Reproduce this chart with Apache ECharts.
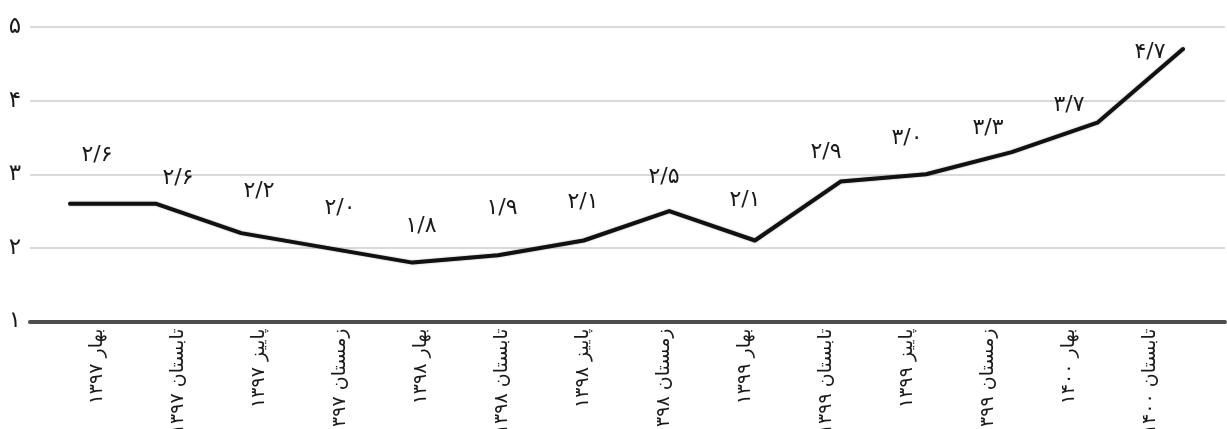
<!DOCTYPE html>
<html lang="fa">
<head>
<meta charset="utf-8">
<title>نرخ</title>
<script src="https://cdn.jsdelivr.net/npm/echarts@6/dist/echarts.min.js"></script>
<style>
  html, body { margin: 0; padding: 0; background: #fff; }
  #chart { width: 1227px; height: 429px; }
</style>
</head>
<body>
<div id="chart"></div>
<script>
// Quarterly periods (season + year)
const categories = [
  'بهار ۱۳۹۷', 'تابستان ۱۳۹۷', 'پاییز ۱۳۹۷', 'زمستان ۱۳۹۷',
  'بهار ۱۳۹۸', 'تابستان ۱۳۹۸', 'پاییز ۱۳۹۸', 'زمستان ۱۳۹۸',
  'بهار ۱۳۹۹', 'تابستان ۱۳۹۹', 'پاییز ۱۳۹۹', 'زمستان ۱۳۹۹',
  'بهار ۱۴۰۰', 'تابستان ۱۴۰۰'
];
const values = [2.6, 2.6, 2.2, 2.0, 1.8, 1.9, 2.1, 2.5, 2.1, 2.9, 3.0, 3.3, 3.7, 4.7];
const yTicks = [1, 2, 3, 4, 5];

// vertical nudges of the value labels (px)
const labelNudge = [-48, -25, -42, -40, -36, -47, -38, -34, -40, -29, -36, -24, -17, 3];

const faDigits = '۰۱۲۳۴۵۶۷۸۹';
const toFa = s => String(s).replace(/[0-9]/g, d => faDigits[+d]);
const fmtValue = v => toFa(v.toFixed(1)).replace('.', '/');

const FONT = '"DejaVu Sans", "Noto Sans", sans-serif';
const TOP = 27, BOTTOM = 107.5;

const chart = echarts.init(document.getElementById('chart'), null, { renderer: 'canvas' });

const yBase = {
  type: 'value', min: yTicks[0], max: yTicks[yTicks.length - 1], interval: 1
};
const gridBase = { top: TOP, bottom: BOTTOM, containLabel: false, outerBoundsMode: 'none' };

chart.setOption({
  backgroundColor: '#ffffff',
  animation: false,
  textStyle: { fontFamily: FONT },
  grid: [
    Object.assign({ left: 30, right: 2 }, gridBase),      // frame: gridlines + axis line
    Object.assign({ left: 70, right: 44 }, gridBase),     // line
    Object.assign({ left: 56.5, right: 36.5 }, gridBase)  // category labels + value labels
  ],
  xAxis: [
    {
      gridIndex: 0, type: 'category', data: categories, boundaryGap: false,
      axisLine: { show: true, lineStyle: { color: '#4d4d4d', width: 4 } },
      axisTick: { show: false }, axisLabel: { show: false }, splitLine: { show: false }
    },
    {
      gridIndex: 1, type: 'category', data: categories, boundaryGap: false,
      axisLine: { show: false }, axisTick: { show: false }, axisLabel: { show: false }
    },
    {
      gridIndex: 2, type: 'category', data: categories, boundaryGap: true,
      axisLine: { show: false }, axisTick: { show: false },
      axisLabel: {
        show: true, rotate: 90, margin: 7, interval: 0,
        fontSize: 19, color: '#1a1a1a', fontFamily: FONT
      }
    }
  ],
  yAxis: [
    Object.assign({}, yBase, {
      gridIndex: 0,
      axisLine: { show: false }, axisTick: { show: false },
      axisLabel: {
        show: true, margin: 9, fontSize: 23, color: '#1a1a1a', fontFamily: FONT,
        formatter: v => toFa(v)
      },
      splitLine: { show: true, lineStyle: { color: '#dadada', width: 2 } }
    }),
    Object.assign({}, yBase, {
      gridIndex: 1, show: false, splitLine: { show: false }
    }),
    Object.assign({}, yBase, {
      gridIndex: 2, show: false, splitLine: { show: false }
    })
  ],
  series: [
    {
      type: 'line', xAxisIndex: 1, yAxisIndex: 1,
      data: values,
      symbol: 'none',
      lineStyle: {
        color: '#111111', width: 4, join: 'round', cap: 'round',
        shadowColor: 'rgba(0,0,0,0.35)', shadowBlur: 2
      },
      z: 3
    },
    {
      type: 'scatter', xAxisIndex: 2, yAxisIndex: 2,
      data: values.map((v, i) => ({
        value: v,
        label: { offset: [0, labelNudge[i]] }
      })),
      symbolSize: 1,
      itemStyle: { color: 'rgba(0,0,0,0)' },
      label: {
        show: true, position: 'inside', opacity: 1,
        fontSize: 22, color: '#1a1a1a', fontFamily: FONT,
        formatter: p => fmtValue(p.value)
      },
      emphasis: { disabled: true },
      z: 4
    }
  ]
});
</script>
</body>
</html>
